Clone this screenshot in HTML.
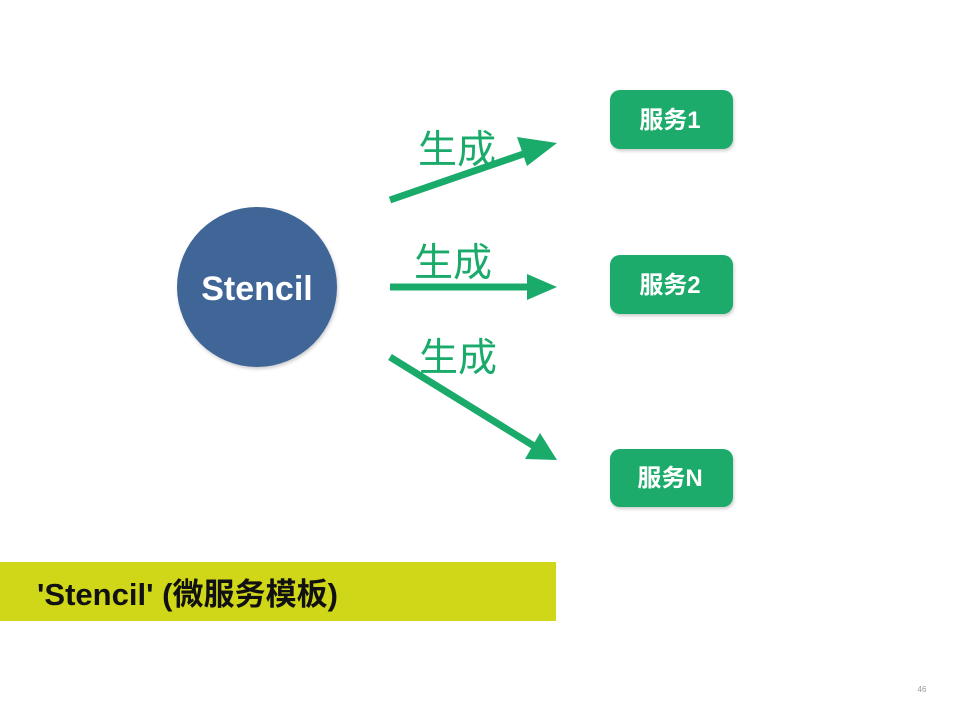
<!DOCTYPE html>
<html><head><meta charset="utf-8"><style>
html,body{margin:0;padding:0;background:#fff;}
svg{display:block}
</style></head><body>
<svg width="959" height="720" viewBox="0 0 959 720" xmlns="http://www.w3.org/2000/svg">
<defs><filter id="sh" x="-10%" y="-10%" width="130%" height="130%"><feDropShadow dx="1" dy="2" stdDeviation="1.5" flood-color="#000" flood-opacity="0.2"/></filter></defs>
<circle cx="257" cy="287" r="80" fill="#3f6597" filter="url(#sh)"/>
<text x="257" y="300" text-anchor="middle" font-family="'Liberation Sans','DejaVu Sans',sans-serif" font-weight="bold" font-size="34" fill="#fff">Stencil</text>
<g fill="#1aab6b" filter="url(#sh)">
<rect x="610" y="90" width="123" height="59" rx="10"/>
<rect x="610" y="255" width="123" height="59" rx="10"/>
<rect x="610" y="449" width="123" height="58" rx="10"/>
</g>
<g font-family="'Liberation Sans','Noto Sans CJK SC',sans-serif" font-weight="bold" font-size="24" fill="#fff" text-anchor="middle">
<text x="670" y="128">服务1</text>
<text x="670" y="293">服务2</text>
<text x="670" y="486">服务N</text>
</g>
<g stroke="#1aab6b" stroke-width="7" fill="none">
<line x1="390" y1="200" x2="532" y2="151"/>
<line x1="390" y1="287" x2="530" y2="287"/>
<line x1="390" y1="357" x2="534" y2="446"/>
</g>
<g fill="#1aab6b">
<polygon points="557,143 527,166 517,137"/>
<polygon points="557,287 527,300 527,274"/>
<polygon points="557,460 525,459 540,433"/>
</g>
<g font-family="'Noto Sans CJK SC',sans-serif" font-size="39" fill="#1aab6b">
<text x="418" y="163">生成</text>
<text x="414" y="276">生成</text>
<text x="419" y="371">生成</text>
</g>
<rect x="0" y="562" width="556" height="59" fill="#d0d718"/>
<text x="37" y="605" textLength="301" lengthAdjust="spacingAndGlyphs" font-family="'Liberation Sans','Noto Sans CJK SC',sans-serif" font-weight="bold" font-size="31" fill="#111">'Stencil' (微服务模板)</text>
<text x="922" y="692" font-family="'Liberation Sans',sans-serif" font-size="8" fill="#999" text-anchor="middle">46</text>
</svg>
</body></html>
